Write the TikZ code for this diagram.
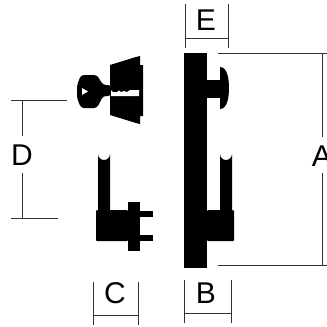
\documentclass[tikz,border=0pt]{standalone}
\usepackage{fontspec}
\setmainfont{Liberation Sans}
\tikzset{
  part/.style={fill=black, draw=none},
  dimline/.style={line width=0.8pt, draw=black!80},
  dimlabel/.style={inner sep=0pt, font=\fontsize{30}{30}\selectfont}
}
\begin{document}
\begin{tikzpicture}[x=1pt, y=-1pt]
  \useasboundingbox (0,0) rectangle (327,327);
  % key
  \fill[part, rounded corners=3pt] (81,75) -- (97,75) -- (103,85) -- (111,85) -- (111,96) -- (103,96) -- (97,108) -- (81,108) -- (77,98) -- (77,85) -- cycle;
  \fill[white] (82,88) -- (88,91.5) -- (82,95) -- cycle;
  % cylinder
  \fill[part] (110,65) -- (136,57) -- (140,56) -- (140,65) -- (143,65) -- (143,116) -- (140,116) -- (140,124) -- (136,123) -- (110,115) -- cycle;
  \fill[white] (111,90) -- (113,92) -- (117,92) -- (119,90.5) -- (121,92) -- (124,91) -- (127,92) -- (130,90) -- (139,90) -- (139,96) -- (111,96) -- cycle;
  % lower left handle
  \fill[part, rounded corners=1pt] (96,241) -- (96,210) -- (128,210) -- (128,241) -- cycle;
  \fill[part] (98,210) -- (98,154) arc [start angle=180, end angle=0, radius=6] -- (110,210) -- cycle;
  \fill[part] (128,202) rectangle (140,251);
  \fill[part] (140,211) rectangle (153,217);
  \fill[part] (140,235) rectangle (153,241);
  % plate with knob and lever
  \fill[part] (184,53) rectangle (207,268);
  \fill[part] (207,80) rectangle (222,98);
  \fill[part] (220,67) .. controls (227,67) and (229,78) .. (229,88) .. controls (229,98) and (227,109) .. (220,109) -- cycle;
  \fill[part, rounded corners=1pt] (207,210) -- (234,210) -- (234,241) -- (207,241) -- cycle;
  \fill[part] (220,210) -- (220,154) arc [start angle=180, end angle=0, radius=6] -- (232,210) -- cycle;
  % dimensions
  \node[dimlabel] (labelA) at (322,156) {A};
  \node[dimlabel] (labelB) at (206,293) {B};
  \node[dimlabel] (labelC) at (115,293) {C};
  \node[dimlabel] (labelD) at (22,155) {D};
  \node[dimlabel] (labelE) at (206,20) {E};
  \coordinate (topA) at (322,53);
  \coordinate (botA) at (322,265);
  \draw[dimline] (218,53) -- (327,53);
  \draw[dimline] (218,265) -- (327,265);
  \draw[dimline] (topA) -- ++(0,84);
  \draw[dimline] (botA) -- ++(0,-92);
  \coordinate (topD) at (22,100);
  \coordinate (botD) at (22,218);
  \draw[dimline] (11,100) -- (67,100);
  \draw[dimline] (11,218) -- (58,218);
  \draw[dimline] (topD) -- ++(0,36);
  \draw[dimline] (botD) -- ++(0,-45);
  \draw[dimline] (185,4) -- (185,48);
  \draw[dimline] (228,4) -- (228,48);
  \draw[dimline] (185,38) -- (228,38);
  \draw[dimline] (184,280) -- (184,323);
  \draw[dimline] (231,280) -- (231,323);
  \draw[dimline] (184,313) -- (231,313);
  \draw[dimline] (93,282) -- (93,325);
  \draw[dimline] (138,282) -- (138,325);
  \draw[dimline] (93,315) -- (138,315);
\end{tikzpicture}
\end{document}
